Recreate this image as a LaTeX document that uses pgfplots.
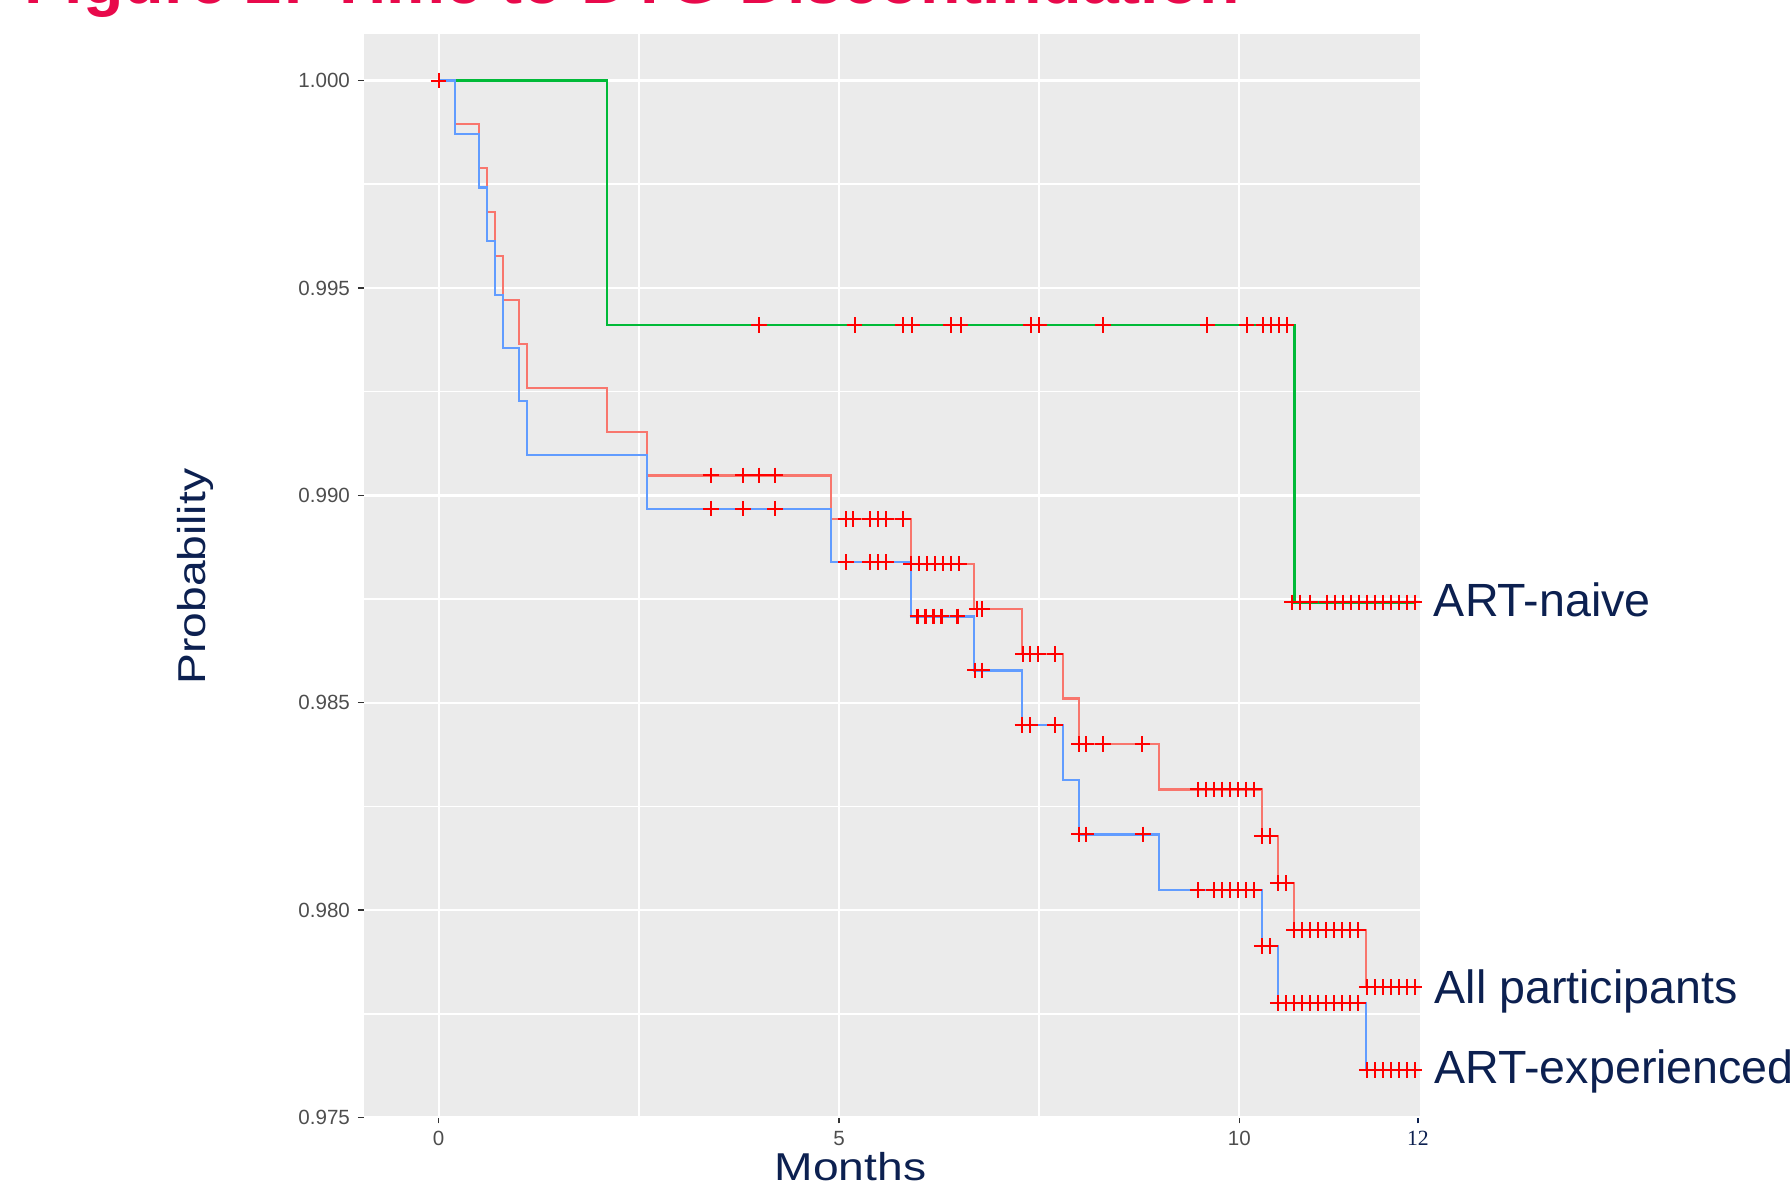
\documentclass[border=0pt]{standalone}
\usepackage{pgfplots}
\pgfplotsset{compat=1.18}
\usepackage{fontspec}
\setmainfont{Liberation Sans}
\newfontfamily\serifnum{Liberation Serif}
\definecolor{ggbg}{HTML}{EBEBEB}
\definecolor{allred}{HTML}{F8766D}
\definecolor{naivegreen}{HTML}{00BA38}
\definecolor{expblue}{HTML}{619CFF}
\definecolor{navy}{RGB}{12,32,80}
\definecolor{titlered}{RGB}{232,9,75}
\definecolor{tickgray}{HTML}{4D4D4D}
\definecolor{tickmark}{HTML}{333333}
\begin{document}
\begin{tikzpicture}
\useasboundingbox (-159.3pt,-31.8pt) rectangle (624.7pt,489.2pt);
\clip (-159.3pt,-31.8pt) rectangle (624.7pt,489.2pt);
\begin{axis}[
  at={(0pt,0pt)}, anchor=south west,
  scale only axis, width=462.45pt, height=474.15pt,
  xmin=-0.934, xmax=12.261, ymin=0.975, ymax=1.001115,
  axis background/.style={fill=ggbg},
  axis line style={draw=none},
  xtick={0,5,10}, minor xtick={2.5,7.5},
  ytick={0.975,0.98,0.985,0.99,0.995,1.0},
  minor ytick={0.9775,0.9825,0.9875,0.9925,0.9975},
  grid=both,
  major grid style={white, line width=1pt},
  minor grid style={white, line width=0.7pt},
  tick align=outside, xtick pos=bottom, ytick pos=left,
  major tick length=2.6pt, minor tick length=0pt,
  major tick style={draw=tickmark, line width=0.6pt},
  ticklabel style={font=\fontsize{9}{10}\selectfont, text=tickgray},
  /pgf/number format/assume math mode=true,
  yticklabel style={/pgf/number format/fixed, /pgf/number format/fixed zerofill, /pgf/number format/precision=3},
  scaled y ticks=false,
  extra x ticks={12.23}, extra x tick labels={12},
  extra x tick style={grid=none, major tick style={draw=navy, line width=0.6pt}, xticklabel style={text=navy, font=\serifnum\fontsize{9.5}{10}\selectfont}},
]
% ART-naive
\addplot[const plot, color=naivegreen, line width=1pt] coordinates {
(0,1.000) (2.10,0.99411) (10.69,0.98742) (12.19,0.98742)};
% All participants
\addplot[const plot, color=allred, line width=1pt] coordinates {
(0,1.000) (0.20,0.998955) (0.50,0.997894) (0.605,0.996825) (0.70,0.995772)
(0.80,0.994711) (1.00,0.993650) (1.10,0.992597) (2.10,0.991535) (2.60,0.990482)
(4.90,0.989429) (5.90,0.988352) (6.69,0.987267) (7.29,0.986182) (7.80,0.985105)
(8.00,0.984011) (9.00,0.982910) (10.28,0.981785) (10.48,0.980659) (10.68,0.979518)
(11.58,0.978151) (12.19,0.978151)};
% ART-experienced
\addplot[const plot, color=expblue, line width=1pt] coordinates {
(0,1.000) (0.20,0.998706) (0.50,0.997420) (0.60,0.996125) (0.70,0.994831)
(0.80,0.993545) (1.00,0.992267) (1.10,0.990973) (2.60,0.989678) (4.90,0.988392)
(5.90,0.987082) (6.69,0.985780) (7.29,0.984469) (7.80,0.983143) (8.00,0.981825)
(9.00,0.980490) (10.28,0.979140) (10.48,0.977765) (11.58,0.976141) (12.19,0.976141)};
% censor marks: All participants
\addplot[only marks, mark=+, mark size=3.4pt, color=red, mark options={line width=0.9pt}] coordinates {
(0,1.000)
(3.40,0.990482) (3.80,0.990482) (4.00,0.990482) (4.20,0.990482)
(5.09,0.989429) (5.18,0.989429) (5.39,0.989429) (5.49,0.989429) (5.59,0.989429) (5.80,0.989429)
(5.90,0.988352) (6.00,0.988352) (6.10,0.988352) (6.20,0.988352) (6.30,0.988352) (6.40,0.988352) (6.50,0.988352)
(6.72,0.987267) (6.79,0.987267)
(7.30,0.986182) (7.39,0.986182) (7.49,0.986182) (7.70,0.986182)
(8.00,0.984011) (8.09,0.984011) (8.30,0.984011) (8.79,0.984011)
(9.48,0.982910) (9.58,0.982910) (9.68,0.982910) (9.78,0.982910) (9.88,0.982910) (9.98,0.982910) (10.08,0.982910) (10.18,0.982910)
(10.28,0.981785) (10.38,0.981785)
(10.48,0.980659) (10.58,0.980659)
(10.68,0.979518) (10.78,0.979518) (10.88,0.979518) (10.98,0.979518) (11.08,0.979518) (11.18,0.979518) (11.28,0.979518) (11.38,0.979518) (11.48,0.979518)
(11.59,0.978151) (11.69,0.978151) (11.79,0.978151) (11.89,0.978151) (11.99,0.978151) (12.09,0.978151) (12.19,0.978151)};
% censor marks: ART-experienced
\addplot[only marks, mark=+, mark size=3.4pt, color=red, mark options={line width=0.9pt}] coordinates {
(3.40,0.989678) (3.80,0.989678) (4.20,0.989678)
(5.09,0.988392) (5.39,0.988392) (5.49,0.988392) (5.59,0.988392)
(5.98,0.987082) (6.08,0.987082) (6.18,0.987082) (6.28,0.987082) (6.48,0.987082)
(6.70,0.985780) (6.79,0.985780)
(7.29,0.984469) (7.39,0.984469) (7.70,0.984469)
(8.00,0.981825) (8.09,0.981825) (8.80,0.981825)
(9.48,0.980490) (9.68,0.980490) (9.78,0.980490) (9.88,0.980490) (9.98,0.980490) (10.08,0.980490) (10.18,0.980490)
(10.28,0.979140) (10.38,0.979140)
(10.48,0.977765) (10.58,0.977765) (10.68,0.977765) (10.78,0.977765) (10.88,0.977765) (10.98,0.977765) (11.08,0.977765) (11.18,0.977765) (11.28,0.977765) (11.38,0.977765) (11.48,0.977765)
(11.59,0.976141) (11.69,0.976141) (11.79,0.976141) (11.89,0.976141) (11.99,0.976141) (12.09,0.976141) (12.19,0.976141)};
% censor marks: ART-naive
\addplot[only marks, mark=+, mark size=3.4pt, color=red, mark options={line width=0.9pt}] coordinates {
(4.00,0.99411) (5.195,0.99411) (5.80,0.99411) (5.91,0.99411) (6.40,0.99411) (6.52,0.99411)
(7.40,0.99411) (7.50,0.99411) (8.30,0.99411) (9.60,0.99411) (10.09,0.99411)
(10.30,0.99411) (10.40,0.99411) (10.50,0.99411) (10.59,0.99411)
(10.66,0.98742) (10.76,0.98742) (10.88,0.98742) (11.09,0.98742) (11.19,0.98742) (11.29,0.98742)
(11.39,0.98742) (11.49,0.98742) (11.59,0.98742) (11.69,0.98742) (11.79,0.98742) (11.89,0.98742)
(11.99,0.98742) (12.10,0.98742) (12.19,0.98742)};
\end{axis}
% title (cut off at top as in the slide)
\node[anchor=base west, inner sep=0pt, text=titlered, font=\fontsize{29}{34}\selectfont\bfseries] at (-148.8pt,487.6pt) {Figure 2: Time to DTG Discontinuation};
% axis titles
\node[anchor=base, inner sep=0pt, text=navy] at (212.95pt,-27.35pt) {\scalebox{1.19}[1]{\fontsize{17}{20}\selectfont Months}};
\node[anchor=base, inner sep=0pt, text=navy, rotate=90] at (-69.55pt,236.75pt) {\scalebox{1.19}[1]{\fontsize{17}{20}\selectfont Probability}};
% curve labels
\node[anchor=base west, inner sep=0pt, text=navy, font=\fontsize{20.4}{24}\selectfont] at (468.2pt,219.25pt) {ART-naive};
\node[anchor=base west, inner sep=0pt, text=navy, font=\fontsize{20.4}{24}\selectfont] at (468.5pt,50pt) {All participants};
\node[anchor=base west, inner sep=0pt, text=navy, font=\fontsize{20.4}{24}\selectfont] at (468.5pt,14.95pt) {ART-experienced};
\end{tikzpicture}
\end{document}
